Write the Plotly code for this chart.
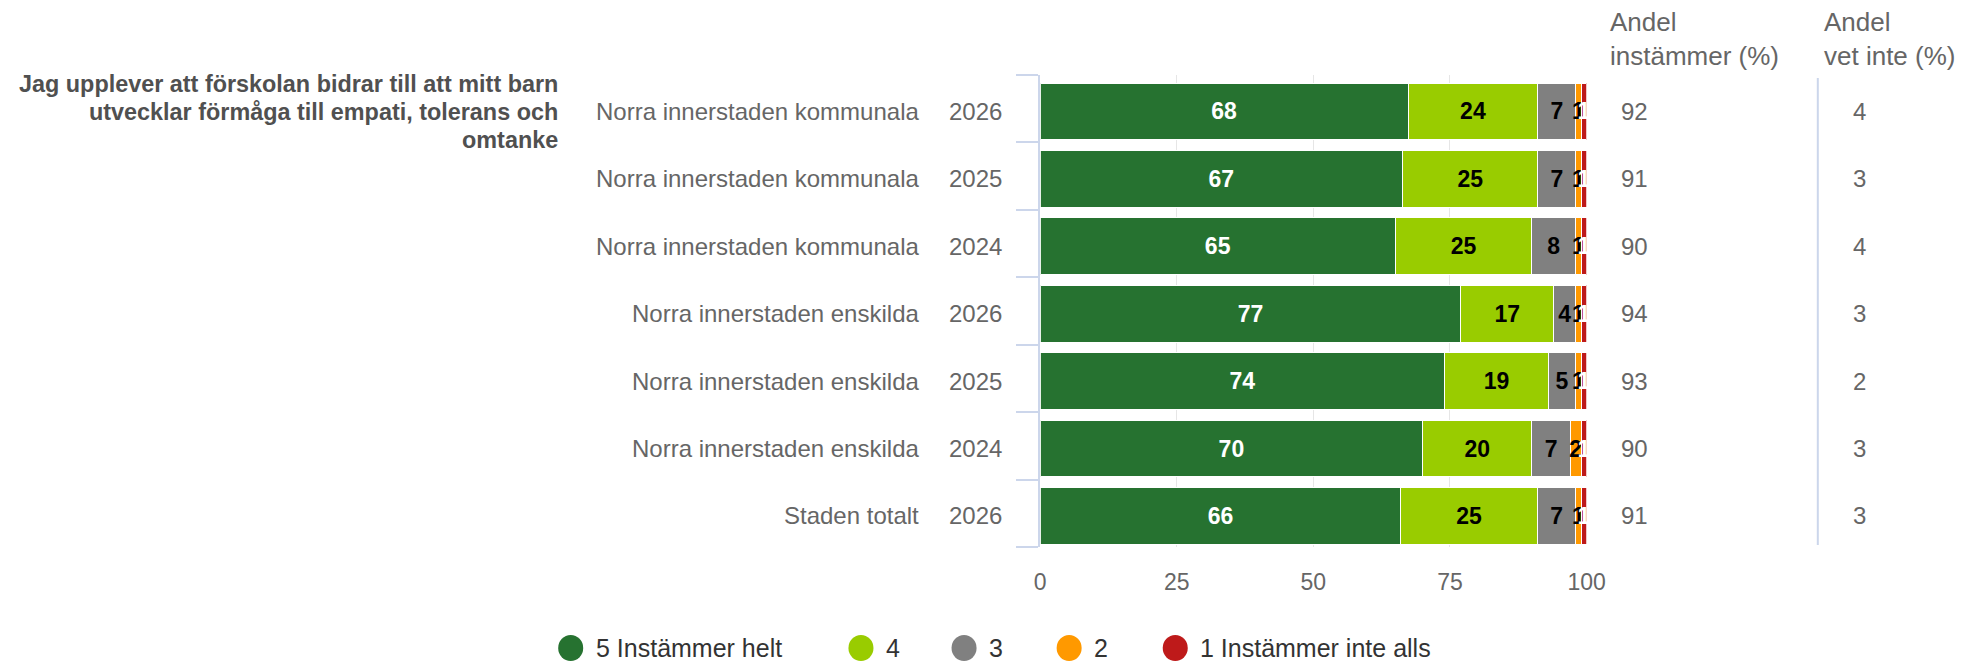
import plotly.graph_objects as go

# --- data -------------------------------------------------------------
question = [
    "Jag upplever att förskolan bidrar till att mitt barn",
    "utvecklar förmåga till empati, tolerans och",
    "omtanke",
]
units = [
    "Norra innerstaden kommunala",
    "Norra innerstaden kommunala",
    "Norra innerstaden kommunala",
    "Norra innerstaden enskilda",
    "Norra innerstaden enskilda",
    "Norra innerstaden enskilda",
    "Staden totalt",
]
years = ["2026", "2025", "2024", "2026", "2025", "2024", "2026"]

series_names = ["5 Instämmer helt", "4", "3", "2", "1 Instämmer inte alls"]
s5 = [68, 67, 65, 77, 74, 70, 66]
s4 = [24, 25, 25, 17, 19, 20, 25]
s3 = [7, 7, 8, 4, 5, 7, 7]
s2 = [1, 1, 1, 1, 1, 2, 1]
s1 = [1, 1, 1, 1, 1, 1, 1]

andel_instammer = [92, 91, 90, 94, 93, 90, 91]
andel_vet_inte = [4, 3, 4, 3, 2, 3, 3]

x_ticks = [0, 25, 50, 75, 100]
header_agree = "Andel<br>instämmer (%)"
header_dontknow = "Andel<br>vet inte (%)"

# --- styling ----------------------------------------------------------
W, H = 1965, 662
colors = ["#267230", "#99cc00", "#808080", "#ff9900", "#be1a1a"]
label_colors = ["#ffffff", "#000000", "#000000", "#000000", "#ffffff"]
axis_blue = "#ccd6eb"
FONT = "Liberation Sans, Arial, sans-serif"


def px(x):
    # horizontal pixel position -> paper fraction
    return ((x - 6.8) / 0.9864) / W


def py(y):
    return 1 - y / H


rows = list(range(len(units)))
series = [s5, s4, s3, s2, s1]
BAR_W = 0.84

fig = go.Figure()
for name, vals, col, lcol in zip(series_names, series, colors, label_colors):
    fig.add_trace(go.Bar(
        name=name,
        y=rows,
        x=vals,
        orientation="h",
        width=BAR_W,
        offset=-BAR_W / 2 + 0.04,
        marker=dict(color=col, line=dict(color="#ffffff", width=1)),
        text=[str(v) for v in vals],
        textposition="inside",
        insidetextanchor="middle",
        textangle=0,
        constraintext="none",
        insidetextfont=dict(family=FONT, size=23, color=lcol, weight="bold"),
        hoverinfo="skip",
        showlegend=False,
        cliponaxis=False,
    ))

annotations = []

# question text, right aligned, one line per annotation
for i, line in enumerate(question):
    annotations.append(dict(
        text=line, xref="paper", yref="paper", x=px(560), y=py(84 + i * 28),
        xanchor="right", yanchor="middle", showarrow=False,
        font=dict(family=FONT, size=23.4, color="#505050", weight="bold"),
    ))

# category and year labels, summary columns
for r, (u, yr) in enumerate(zip(units, years)):
    annotations.append(dict(
        text=u, xref="paper", yref="y", x=px(921), y=r + 0.04,
        xanchor="right", yanchor="middle", showarrow=False,
        font=dict(family=FONT, size=24, color="#666666"),
    ))
    annotations.append(dict(
        text=yr, xref="paper", yref="y", x=px(1004), y=r + 0.04,
        xanchor="right", yanchor="middle", showarrow=False,
        font=dict(family=FONT, size=24, color="#666666"),
    ))
    annotations.append(dict(
        text=str(andel_instammer[r]), xref="paper", yref="y", x=px(1618), y=r + 0.04,
        xanchor="left", yanchor="middle", showarrow=False,
        font=dict(family=FONT, size=24, color="#666666"),
    ))
    annotations.append(dict(
        text=str(andel_vet_inte[r]), xref="paper", yref="y", x=px(1850), y=r + 0.04,
        xanchor="left", yanchor="middle", showarrow=False,
        font=dict(family=FONT, size=24, color="#666666"),
    ))

# column headers
for txt, xpos in [(header_agree, 1607), (header_dontknow, 1821)]:
    annotations.append(dict(
        text=txt, xref="paper", yref="paper", x=px(xpos), y=py(39),
        xanchor="left", yanchor="middle", align="left", showarrow=False,
        font=dict(family=FONT, size=26, color="#666666"),
    ))

shapes = [
    # divider in front of the "vet inte" column
    dict(type="line", xref="paper", yref="paper",
         x0=px(1817), x1=px(1817), y0=py(78), y1=py(545),
         line=dict(color=axis_blue, width=2)),
]

# legend: round symbols followed by the series name
legend_x = [571, 861, 964, 1069, 1175]
for name, col, lx in zip(series_names, colors, legend_x):
    shapes.append(dict(
        type="circle", xref="paper", yref="paper",
        x0=px(lx - 12.5), x1=px(lx + 12.5), y0=py(648 + 13), y1=py(648 - 13),
        fillcolor=col, line=dict(width=0),
    ))
    annotations.append(dict(
        text=name, xref="paper", yref="paper", x=px(lx + 23), y=py(648),
        xanchor="left", yanchor="middle", showarrow=False,
        font=dict(family=FONT, size=25, color="#333333"),
    ))

fig.update_layout(
    width=W, height=H,
    margin=dict(l=0, r=0, t=0, b=0),
    paper_bgcolor="#ffffff", plot_bgcolor="#ffffff",
    barmode="stack", barnorm="percent",
    uniformtext=dict(minsize=23, mode="show"),
    font=dict(family=FONT, color="#666666"),
    xaxis=dict(
        domain=[px(1040), px(1586)], range=[0, 100],
        tickvals=x_ticks, ticktext=[str(t) for t in x_ticks],
        showgrid=True, gridcolor="#e6e6e6", gridwidth=1,
        zeroline=False, showline=False,
        ticks="outside", ticklen=14, tickcolor="rgba(0,0,0,0)",
        tickfont=dict(family=FONT, size=23, color="#666666"),
        fixedrange=True,
    ),
    yaxis=dict(
        domain=[py(547), py(75)], range=[6.5, -0.5],
        tickvals=[r - 0.5 for r in rows] + [rows[-1] + 0.5],
        showticklabels=False,
        ticks="outside", ticklen=22, tickcolor=axis_blue, tickwidth=2,
        showline=True, linecolor=axis_blue, linewidth=2,
        showgrid=False, zeroline=False, fixedrange=True,
    ),
    annotations=annotations,
    shapes=shapes,
    showlegend=False,
)

fig.write_html("out.html")
